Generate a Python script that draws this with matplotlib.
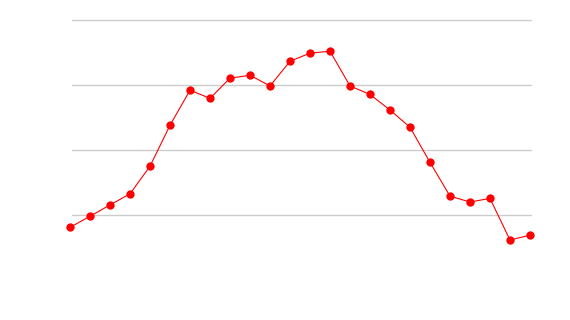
import matplotlib
matplotlib.use("Agg")
import matplotlib.pyplot as plt

x_index = list(range(24))
values = [16.2, 19.6, 23.1, 26.5, 35.0, 47.6, 58.4, 55.9, 62.1, 63.0, 59.7, 67.3,
          69.8, 70.4, 59.7, 57.1, 52.3, 47.0, 36.2, 25.8, 24.0, 25.1, 12.3, 13.8]
grid_levels = [20, 40, 60, 80]

fig = plt.figure(figsize=(5.7, 3.2), dpi=100)
ax = fig.add_axes([70/570, 40/320, 460/570, 260/320])
ax.set_xlim(0, 23)
ax.set_ylim(0, 80)
for g in grid_levels:
    ax.axhline(g, xmin=2/460, xmax=461/460, color="#cccccc", linewidth=1.0,
               zorder=1, clip_on=False)
ax.plot(x_index, values, color="#ff0000", linewidth=0.8, marker="o",
        markersize=6, markeredgewidth=0, clip_on=False, zorder=3)
for s in ax.spines.values():
    s.set_visible(False)
ax.set_xticks([])
ax.set_yticks([])
fig.savefig("out.png", dpi=100)
